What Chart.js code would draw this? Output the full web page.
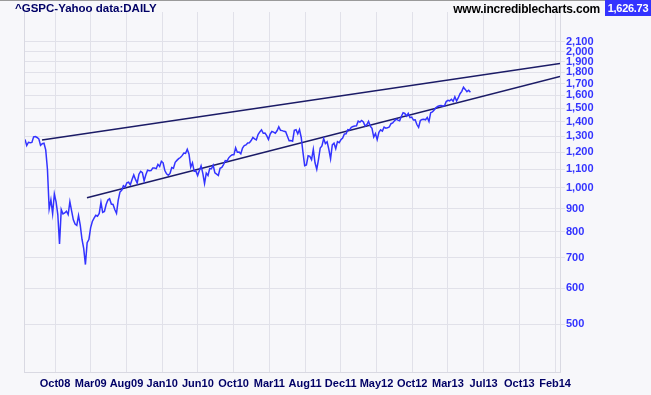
<!DOCTYPE html>
<html lang="en">
<head>
<meta charset="UTF-8">
<title>^GSPC daily</title>
<script src="https://cdn.jsdelivr.net/npm/chart.js"></script>
<style>
  body { margin: 0; background: #f7f7fa; }
  #wrap { position: relative; width: 651px; height: 395px; }
  #topline { position: absolute; left: 0; top: 0; width: 651px; height: 1px; background: #9a9a9a; }
  .hdr { position: absolute; font-family: "Liberation Sans", Arial, sans-serif; font-weight: bold; white-space: nowrap; }
  #title { left: 15px; top: 2px; color: #000066; font-size: 11.5px; }
  #site { right: 51px; top: 2px; color: #000; font-size: 12px; letter-spacing: -0.2px; }
  #last { left: 605px; top: 0; width: 46px; height: 16px; line-height: 17px; background: #3333ff; color: #fff; text-align: center; font-size: 11px; letter-spacing: -0.3px; }
</style>
</head>
<body>
<div id="wrap">
  <canvas id="chart" width="651" height="395"></canvas>
  <div id="topline"></div>
  <div class="hdr" id="title">^GSPC-Yahoo data:DAILY</div>
  <div class="hdr" id="site">www.incrediblecharts.com</div>
  <div class="hdr" id="last">1,626.73</div>
</div>
<script>
// weekly closes, from the first week of Jul 2008 to mid Jun 2013
var close2008 = [1280, 1240, 1261, 1258, 1260, 1296, 1298, 1292, 1283, 1242, 1252, 1255, 1213,
                 1099, 899, 941, 877, 969, 931, 873, 752, 896, 876, 880, 888, 873];
var close2009 = [932, 890, 850, 832, 826, 869, 827, 770, 735, 677, 757, 769, 816, 843, 857, 870, 866,
                 878, 929, 883, 887, 919, 940, 946, 921, 919, 896, 879, 940, 979, 988, 1011, 1004, 1026, 1029,
                 1016, 1043, 1068, 1044, 1025, 1072, 1088, 1080, 1036, 1069, 1094, 1091, 1092,
                 1106, 1106, 1103, 1127, 1115];
var close2010 = [1145, 1136, 1092, 1074, 1066, 1076, 1109, 1105, 1139, 1150, 1160, 1167,
                 1178, 1194, 1192, 1217, 1187, 1111, 1136, 1088, 1089, 1065, 1092, 1118, 1077,
                 1023, 1078, 1065, 1103, 1102, 1122, 1079, 1072, 1065, 1105, 1110, 1126, 1149,
                 1146, 1165, 1176, 1183, 1183, 1226, 1199, 1200, 1189, 1225, 1240, 1244, 1257, 1258];
var close2011 = [1272, 1293, 1283, 1276, 1311, 1329, 1343, 1320, 1321, 1304, 1279, 1314,
                 1332, 1328, 1320, 1337, 1364, 1340, 1338, 1333, 1331, 1300, 1271, 1272, 1268,
                 1340, 1344, 1316, 1345, 1292, 1199, 1120, 1124, 1177, 1174, 1154, 1216, 1136, 1099,
                 1155, 1225, 1238, 1285, 1253, 1264, 1216, 1159, 1244, 1255, 1220, 1265, 1258];
var close2012 = [1278, 1289, 1315, 1316, 1345, 1343, 1361, 1366, 1370, 1371, 1404, 1397, 1409,
                 1398, 1370, 1379, 1403, 1369, 1353, 1295, 1318, 1278, 1326, 1343, 1335, 1362,
                 1355, 1357, 1363, 1386, 1391, 1406, 1418, 1411, 1407, 1438, 1466, 1460, 1441,
                 1461, 1429, 1433, 1412, 1414, 1380, 1360, 1409, 1416, 1418, 1414, 1430, 1402];
var close2013 = [1466, 1472, 1486, 1503, 1513, 1518, 1520, 1516, 1518, 1551, 1561, 1557, 1569,
                 1553, 1589, 1555, 1582, 1614, 1634, 1668, 1650, 1631, 1643, 1627];

// trend lines: [week, value] at each end
var upperTrend = [[9.85, 1275], [309.9, 1882]];
var lowerTrend = [[35.9, 951], [309.9, 1763]];

var xTickLabels = ['Oct08', 'Mar09', 'Aug09', 'Jan10', 'Jun10', 'Oct10', 'Mar11', 'Aug11',
                   'Dec11', 'May12', 'Oct12', 'Mar13', 'Jul13', 'Oct13', 'Feb14'];
var yTickValues = [500, 600, 700, 800, 900, 1000, 1100, 1200, 1300, 1400, 1500, 1600,
                   1700, 1800, 1900, 2000, 2100];

var closes = close2008.concat(close2009, close2010, close2011, close2012, close2013);
var pricePts = closes.map(function (v, i) { return { x: i, y: v }; });
function toPts(arr) { return arr.map(function (p) { return { x: p[0], y: p[1] }; }); }

var gridCol = '#e1e1e9';

// left edge of the plot frame
var framePlugin = {
    id: 'frame',
    afterDraw: function (chart) {
        var a = chart.chartArea, ctx = chart.ctx;
        ctx.save();
        ctx.strokeStyle = '#d9d9e2';
        ctx.lineWidth = 1;
        ctx.beginPath();
        ctx.moveTo(a.left + 0.5, a.top);
        ctx.lineTo(a.left + 0.5, a.bottom);
        ctx.stroke();
        ctx.restore();
    }
};

var ctx = document.getElementById('chart').getContext('2d');
new Chart(ctx, {
    type: 'line',
    data: {
        datasets: [
            { data: pricePts, borderColor: '#3333ff', borderWidth: 1.5, pointRadius: 0, tension: 0 },
            { data: toPts(upperTrend), borderColor: '#1b1b66', borderWidth: 1.5, pointRadius: 0 },
            { data: toPts(lowerTrend), borderColor: '#1b1b66', borderWidth: 1.5, pointRadius: 0 }
        ]
    },
    options: {
        responsive: false,
        devicePixelRatio: 1,
        animation: false,
        layout: { padding: { left: 24, top: 12, right: 0, bottom: 0 } },
        plugins: { legend: { display: false }, tooltip: { enabled: false } },
        scales: {
            x: {
                type: 'linear',
                min: -0.58,
                max: 309.9,
                afterBuildTicks: function (s) {
                    s.ticks = xTickLabels.map(function (l, k) { return { value: 17.38 + k * 20.69 }; });
                },
                afterFit: function (s) { s.height = 23; },
                grid: { color: gridCol, drawTicks: false },
                border: { color: '#d9d9e2' },
                ticks: {
                    autoSkip: false, maxRotation: 0, padding: 5, color: '#000066',
                    font: { family: 'Liberation Sans', weight: 'bold', size: 11 },
                    callback: function (v, i) { return xTickLabels[i]; }
                }
            },
            y: {
                type: 'logarithmic',
                position: 'right',
                min: 392,
                max: 2446,
                afterBuildTicks: function (s) {
                    s.ticks = yTickValues.map(function (v) { return { value: v }; });
                },
                afterFit: function (s) { s.width = 91; },
                grid: { color: gridCol, tickLength: 5 },
                border: { color: '#d9d9e2' },
                ticks: {
                    autoSkip: false, padding: 1, color: '#3333ff',
                    font: { family: 'Liberation Sans', weight: 'bold', size: 11 },
                    callback: function (v) { return Number(v).toLocaleString('en-US'); }
                }
            }
        }
    },
    plugins: [framePlugin]
});
</script>
</body>
</html>
